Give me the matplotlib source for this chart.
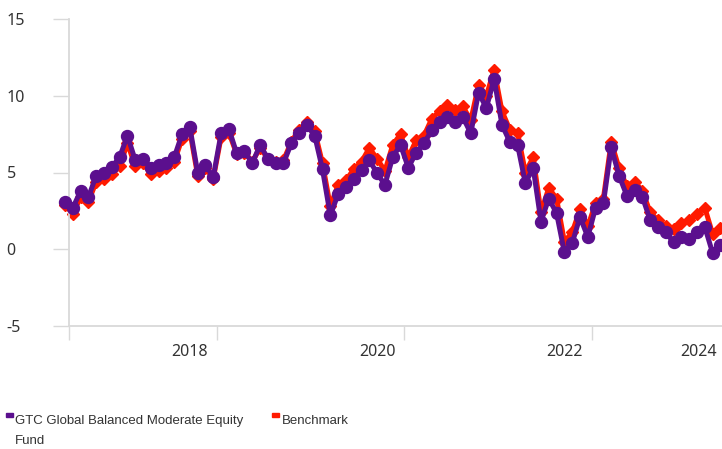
import numpy as np
import matplotlib.pyplot as plt
from matplotlib.patches import Rectangle

plt.rcParams["axes.unicode_minus"] = False

# monthly returns (%), one point per month
fund = [3.1, 2.7, 3.8, 3.4, 4.8, 5.0, 5.35, 6.0, 7.4, 5.8, 5.9, 5.3, 5.5, 5.6, 6.0,
        7.5, 7.95, 5.0, 5.5, 4.7, 7.55, 7.85, 6.25, 6.4, 5.6, 6.8, 5.9, 5.6, 5.6,
        6.9, 7.6, 8.1, 7.4, 5.2, 2.2, 3.6, 4.05, 4.6, 5.15, 5.8, 4.95, 4.2, 6.0,
        6.8, 5.3, 6.3, 6.9, 7.75, 8.3, 8.6, 8.3, 8.6, 7.55, 10.2, 9.2, 11.1, 8.1,
        7.0, 6.8, 4.3, 5.3, 1.8, 3.3, 2.35, -0.2, 0.4, 2.1, 0.8, 2.7, 3.0, 6.65,
        4.8, 3.5, 3.85, 3.4, 1.9, 1.45, 1.1, 0.45, 0.8, 0.7, 1.1, 1.45, -0.25, 0.25]
benchmark = [2.9, 2.3, 3.4, 3.1, 4.4, 4.6, 4.9, 5.4, 6.9, 5.4, 5.6, 4.9, 5.1, 5.3, 5.7,
             7.2, 7.7, 4.8, 5.3, 4.6, 7.3, 7.6, 6.2, 6.3, 5.7, 6.6, 5.9, 5.7, 5.8,
             7.0, 7.8, 8.3, 7.7, 5.6, 2.8, 4.2, 4.5, 5.2, 5.7, 6.6, 5.9, 5.1, 6.8,
             7.5, 6.0, 7.1, 7.4, 8.5, 9.0, 9.4, 9.1, 9.3, 8.4, 10.7, 10.0, 11.7, 9.0,
             7.8, 7.6, 5.0, 6.0, 2.4, 4.0, 3.3, 0.5, 1.1, 2.6, 1.5, 3.0, 3.3, 7.0,
             5.3, 4.1, 4.4, 3.8, 2.4, 1.9, 1.5, 1.3, 1.7, 1.9, 2.3, 2.7, 1.0, 1.4]
year_labels = ["2018", "2020", "2022", "2024"]
year_label_pos = [16, 40, 64, 81.2]
tick_pos = [0.51, 19.5, 43.5, 67.5]

purple = "#5b0f8e"
red = "#ff1a00"
grey = "#d9d9d9"
txt = "#333333"

x = np.arange(len(fund))

fig = plt.figure(figsize=(7.22, 4.49), dpi=100)
ax = fig.add_axes([69 / 722, 123 / 449, 653 / 722, 307 / 449])

ax.plot(x, benchmark, color=red, lw=3.6, marker="D", ms=6.3, clip_on=False, zorder=2)
ax.plot(x, fund, color=purple, lw=3.6, marker="o", ms=8.6, clip_on=False, zorder=3)

ax.set_xlim(0.51, 84.2)
ax.set_ylim(-5, 15)
ax.set_yticks([-5, 0, 5, 10, 15])
ax.set_xticks(tick_pos)
ax.set_xticklabels([])
ax.set_xticks(year_label_pos, minor=True)
ax.set_xticklabels(year_labels, minor=True)

for s in ["top", "right"]:
    ax.spines[s].set_visible(False)
for s in ["left", "bottom"]:
    ax.spines[s].set_color(grey)
    ax.spines[s].set_linewidth(1.3)

ax.tick_params(axis="y", length=11.5, width=1, color=grey, pad=33.5,
               labelsize=11.5, labelcolor=txt)
ax.tick_params(axis="x", which="major", length=10, width=1, color=grey)
ax.tick_params(axis="x", which="minor", length=0, pad=13, labelsize=11.5, labelcolor=txt)
for lab in ax.get_yticklabels():
    lab.set_horizontalalignment("left")
    lab.set_family("Noto Sans")
for lab in ax.get_xticklabels(minor=True):
    lab.set_family("Noto Sans")

# legend drawn by hand
W, H = 722, 449
leg_font = "Liberation Sans"
fig.patches.append(Rectangle((6 / W, 1 - 417 / H), 7 / W, 4.5 / H,
                             color=purple, transform=fig.transFigure))
fig.patches.append(Rectangle((272 / W, 1 - 417 / H), 7 / W, 4.5 / H,
                             color=red, transform=fig.transFigure))
fig.text(15 / W, 1 - 424 / H, "GTC Global Balanced Moderate Equity",
         family=leg_font, fontsize=9.5, color=txt, va="baseline")
fig.text(15 / W, 1 - 444 / H, "Fund",
         family=leg_font, fontsize=9.5, color=txt, va="baseline")
fig.text(282 / W, 1 - 424 / H, "Benchmark", family=leg_font, fontsize=9.5,
         color=txt, va="baseline")

fig.savefig("out.png", dpi=100)
